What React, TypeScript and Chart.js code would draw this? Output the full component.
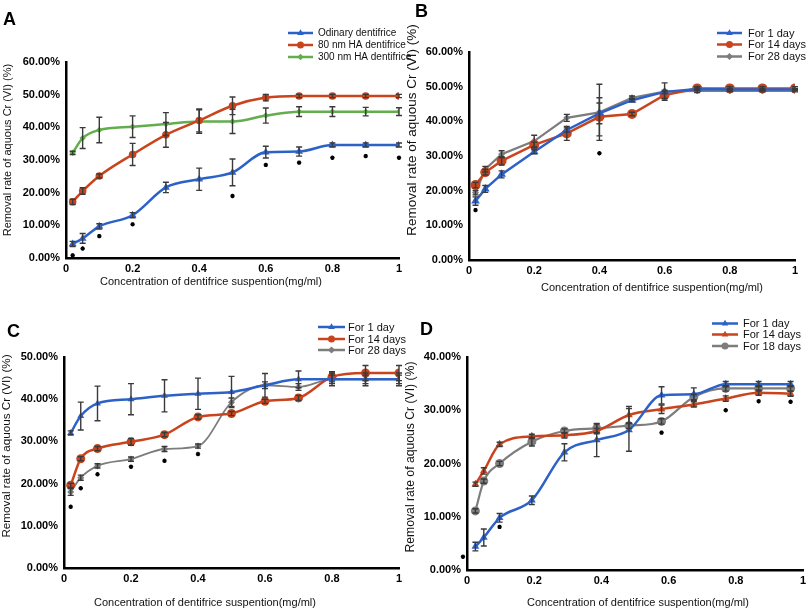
import React, { useEffect, useRef } from "react";
import { Chart, registerables } from "chart.js";

Chart.register(...registerables);

const FONT = "'Liberation Sans', Arial, Helvetica, sans-serif";

// ---------- shared ----------
const concentration = [0.02, 0.05, 0.1, 0.2, 0.3, 0.4, 0.5, 0.6, 0.7, 0.8, 0.9, 1];
const concentrationD = [0.025, 0.05, 0.097, 0.193, 0.29, 0.386, 0.482, 0.579, 0.675, 0.77, 0.868, 0.963];
const xTitle = "Concentration of dentifrice suspention(mg/ml)";
const yTitle = "Removal rate of aquous Cr (VI) (%)";

// ---------- Panel A ----------
const seriesNamesA = ["Odinary dentifrice", "80 nm HA dentifrice", "300 nm HA dentifrice"];
const odinaryA = [4.3, 6.0, 9.7, 13.1, 21.6, 24.1, 26.2, 32.4, 32.6, 34.6, 34.6, 34.6];
const odinaryErrA = [0.8, 1.5, 0.8, 0.8, 1.6, 3.4, 4.1, 1.8, 1.4, 0.6, 0.6, 0.6];
const ha80A = [17.2, 20.5, 25.1, 31.7, 37.7, 42.1, 46.6, 49.1, 49.6, 49.6, 49.6, 49.6];
const ha80ErrA = [0.8, 1.0, 0.6, 3.4, 3.8, 3.5, 2.7, 1.0, 0.5, 0.5, 0.5, 0.5];
const ha300A = [32.2, 36.7, 39.2, 40.2, 41.0, 41.8, 41.8, 43.6, 44.8, 44.8, 44.8, 44.8];
const ha300ErrA = [0.5, 3.2, 3.9, 3.3, 3.5, 3.6, 3.7, 2.3, 1.5, 1.5, 1.3, 1.2];
const starXA = [0.02, 0.05, 0.1, 0.2, 0.5, 0.6, 0.7, 0.8, 0.9, 1];
const starYA = [0.8, 2.9, 6.7, 10.3, 19.0, 28.5, 29.2, 30.7, 31.2, 30.7];

// ---------- Panel B ----------
const seriesNamesB = ["For 1 day", "For 14 days", "For 28 days"];
const day1B = [17.0, 20.5, 24.7, 31.2, 37.5, 42.3, 46.1, 48.5, 49.3, 49.2, 49.2, 49.2];
const day1ErrB = [1.2, 1.0, 1.0, 0.6, 0.6, 3.0, 0.5, 0.5, 0.3, 0.3, 0.3, 0.3];
const day14B = [21.6, 25.3, 28.6, 33.2, 36.5, 41.3, 42.1, 47.6, 49.5, 49.5, 49.5, 49.5];
const day14ErrB = [0.8, 0.8, 1.2, 0.8, 2.0, 5.5, 0.5, 1.0, 0.5, 0.5, 0.5, 0.5];
const day28B = [19.4, 26.2, 30.5, 34.3, 41.0, 42.6, 46.8, 48.6, 48.8, 48.8, 48.8, 48.8];
const day28ErrB = [0.6, 0.8, 1.0, 1.7, 1.0, 8.1, 0.5, 2.5, 0.5, 0.3, 0.3, 0.3];
const starXB = [0.02, 0.4];
const starYB = [14.4, 30.8];

// ---------- Panel C ----------
const seriesNamesC = ["For 1 day", "For 14 days", "For 28 days"];
const day1C = [32.0, 36.0, 39.0, 40.0, 40.8, 41.3, 41.7, 43.3, 44.7, 44.7, 44.7, 44.7];
const day1ErrC = [0.5, 3.3, 4.1, 3.7, 3.8, 3.7, 3.7, 2.8, 2.0, 1.5, 1.5, 1.5];
const day14C = [19.6, 25.9, 28.3, 29.9, 31.6, 35.8, 36.6, 39.5, 40.3, 45.3, 46.2, 46.2];
const day14ErrC = [0.5, 0.5, 0.5, 0.8, 0.5, 0.5, 0.5, 0.5, 0.6, 1.2, 1.8, 1.8];
const day28C = [18.0, 21.4, 24.2, 25.8, 28.2, 28.9, 39.3, 43.3, 42.9, 44.7, 44.7, 44.7];
const day28ErrC = [0.8, 0.6, 0.5, 0.5, 0.6, 0.5, 1.0, 0.8, 0.8, 1.0, 1.0, 1.0];
const starXC = [0.02, 0.05, 0.1, 0.2, 0.3, 0.4];
const starYC = [14.5, 18.9, 22.2, 24.0, 25.4, 27.0];

// ---------- Panel D ----------
const seriesNamesD = ["For 1 day", "For 14 days", "For 18 days"];
const day1D = [4.4, 6.1, 9.8, 13.1, 22.1, 24.4, 26.3, 32.8, 33.0, 34.9, 34.9, 34.9];
const day1ErrD = [0.8, 1.6, 0.8, 0.8, 1.6, 3.1, 4.0, 1.6, 1.2, 0.5, 0.5, 0.5];
const day14D = [16.1, 18.6, 23.6, 25.1, 25.3, 26.1, 29.1, 30.2, 31.1, 32.2, 33.3, 33.1];
const day14ErrD = [0.4, 0.6, 0.4, 0.4, 0.5, 0.5, 1.6, 0.8, 0.5, 0.5, 0.5, 0.5];
const day18D = [11.1, 16.7, 20.0, 24.1, 26.1, 26.6, 27.1, 27.9, 32.5, 34.1, 34.1, 34.1];
const day18ErrD = [0.4, 0.4, 0.4, 0.8, 0.4, 0.8, 0.5, 0.5, 0.5, 0.5, 0.5, 0.5];
const starXD = [-0.012, 0.097, 0.579, 0.77, 0.868, 0.963];
const starYD = [2.5, 8.1, 25.8, 30.0, 31.7, 31.6];

// ---------- styles ----------
const BLUE = "#2c62c8";
const RED = "#c9441c";
const GREEN = "#62ad4c";
const GRAY = "#7d7d7d";

type Style = { color: string; point: string; r: number; w: number };

function drawMarker(ctx: CanvasRenderingContext2D, style: string, x: number, y: number, r: number, color: string) {
  ctx.save();
  ctx.fillStyle = color;
  ctx.beginPath();
  if (style === "triangle") {
    ctx.moveTo(x, y - r * 1.05);
    ctx.lineTo(x + r * 0.95, y + r * 0.6);
    ctx.lineTo(x - r * 0.95, y + r * 0.6);
    ctx.closePath();
  } else if (style === "rectRot") {
    ctx.moveTo(x, y - r);
    ctx.lineTo(x + r, y);
    ctx.lineTo(x, y + r);
    ctx.lineTo(x - r, y);
    ctx.closePath();
  } else {
    ctx.arc(x, y, r, 0, Math.PI * 2);
  }
  ctx.fill();
  ctx.restore();
}

const decorPlugin = {
  id: "decor",
  afterDatasetsDraw(chart: any, _args: any, opts: any) {
    const ctx: CanvasRenderingContext2D = chart.ctx;
    const xs = chart.scales.x;
    const ys = chart.scales.y;
    ctx.save();
    ctx.strokeStyle = "#3a3a3a";
    ctx.lineWidth = 1.4;
    (opts.errors || []).forEach((errs: number[], di: number) => {
      const ds = chart.data.datasets[di];
      ds.data.forEach((p: any, j: number) => {
        const e = errs[j];
        if (!e) return;
        const x = xs.getPixelForValue(p.x);
        const y1 = ys.getPixelForValue(p.y + e);
        const y2 = ys.getPixelForValue(p.y - e);
        ctx.beginPath();
        ctx.moveTo(x, y1);
        ctx.lineTo(x, y2);
        ctx.moveTo(x - 3, y1);
        ctx.lineTo(x + 3, y1);
        ctx.moveTo(x - 3, y2);
        ctx.lineTo(x + 3, y2);
        ctx.stroke();
      });
    });
    ctx.restore();
  },
  afterDraw(chart: any, _args: any, opts: any) {
    const ctx: CanvasRenderingContext2D = chart.ctx;
    ctx.save();
    // panel letter
    ctx.fillStyle = "#000";
    ctx.font = `bold 18px ${FONT}`;
    ctx.textAlign = "left";
    ctx.textBaseline = "alphabetic";
    ctx.fillText(opts.letter, opts.letterX, opts.letterY);
    // legend
    const lg = opts.legend;
    opts.names.forEach((name: string, i: number) => {
      const st: Style = opts.styles[i];
      const y = lg.ys[i];
      ctx.strokeStyle = st.color;
      ctx.lineWidth = 2.5;
      ctx.beginPath();
      ctx.moveTo(lg.x1, y);
      ctx.lineTo(lg.x2, y);
      ctx.stroke();
      drawMarker(ctx, st.point, (lg.x1 + lg.x2) / 2, y, Math.min(st.r, 3.5), st.color);
      ctx.fillStyle = "#111";
      ctx.font = `${lg.size}px ${FONT}`;
      ctx.textAlign = "left";
      ctx.textBaseline = "middle";
      ctx.fillText(name, lg.tx, y + 0.5);
    });
    // axis titles
    ctx.fillStyle = "#111";
    ctx.font = `11px ${FONT}`;
    ctx.textAlign = "center";
    ctx.textBaseline = "middle";
    ctx.fillText(xTitle, opts.xTitleX, opts.xTitleY);
    ctx.save();
    ctx.translate(opts.yTitleX, opts.yTitleY);
    ctx.rotate(-Math.PI / 2);
    ctx.font = `${opts.yTitleSize}px ${FONT}`;
    ctx.fillText(yTitle, 0, 0);
    ctx.restore();
    ctx.restore();
  },
};

type PanelCfg = {
  w: number;
  h: number;
  left: number;
  top: number;
  xs: number[];
  names: string[];
  values: number[][];
  errors: number[][];
  styles: Style[];
  starX: number[];
  starY: number[];
  yMax: number;
  smooth: boolean;
  area: { yW: number; padR: number; padT: number; xH: number };
  letter: string;
  letterX: number;
  letterY: number;
  legend: { x1: number; x2: number; tx: number; ys: number[]; size: number };
  xTitleX: number;
  xTitleY: number;
  yTitleX: number;
  yTitleY: number;
  yTitleSize: number;
};

function Panel({ cfg }: { cfg: PanelCfg }) {
  const ref = useRef<HTMLCanvasElement | null>(null);
  useEffect(() => {
    if (!ref.current) return;
    const datasets: any[] = cfg.values.map((vals, i) => {
      const st = cfg.styles[i];
      return {
        type: "line",
        label: cfg.names[i],
        data: cfg.xs.map((x, j) => ({ x, y: vals[j] })),
        borderColor: st.color,
        backgroundColor: st.color,
        borderWidth: st.w,
        pointStyle: st.point,
        pointRadius: st.r,
        pointBorderWidth: 0,
        pointBackgroundColor: st.color,
        cubicInterpolationMode: cfg.smooth ? "monotone" : "default",
        tension: cfg.smooth ? 0.4 : 0,
        fill: false,
      };
    });
    datasets.push({
      type: "scatter",
      label: "sig",
      data: cfg.starX.map((x, j) => ({ x, y: cfg.starY[j] })),
      pointStyle: "star",
      pointRadius: 2.2,
      borderWidth: 1.3,
      borderColor: "#000",
      backgroundColor: "#000",
      clip: false,
    });
    const chart = new Chart(ref.current, {
      type: "line",
      data: { datasets },
      plugins: [decorPlugin as any],
      options: {
        animation: false,
        responsive: false,
        devicePixelRatio: 1,
        layout: { padding: { left: 0, right: cfg.area.padR, top: cfg.area.padT, bottom: 0 } },
        plugins: {
          legend: { display: false },
          tooltip: { enabled: false },
          decor: {
            errors: cfg.errors,
            names: cfg.names,
            styles: cfg.styles,
            letter: cfg.letter,
            letterX: cfg.letterX,
            letterY: cfg.letterY,
            legend: cfg.legend,
            xTitleX: cfg.xTitleX,
            xTitleY: cfg.xTitleY,
            yTitleX: cfg.yTitleX,
            yTitleY: cfg.yTitleY,
            yTitleSize: cfg.yTitleSize,
          },
        } as any,
        scales: {
          x: {
            type: "linear",
            min: 0,
            max: 1,
            grid: { display: false, drawTicks: false },
            border: { display: true, color: "#000", width: 2.5 },
            ticks: {
              stepSize: 0.2,
              padding: 4,
              color: "#000",
              font: { family: FONT, size: 11, weight: "bold" },
              maxRotation: 0,
              callback: (v: any) => String(Number(Number(v).toFixed(1))),
            },
            afterFit: (s: any) => {
              s.height = cfg.area.xH;
            },
          },
          y: {
            type: "linear",
            min: 0,
            max: cfg.yMax,
            grid: { display: false, drawTicks: false },
            border: { display: true, color: "#000", width: 2.5 },
            ticks: {
              stepSize: 10,
              padding: 6,
              color: "#000",
              font: { family: FONT, size: 11, weight: "bold" },
              callback: (v: any) => Number(v).toFixed(2) + "%",
            },
            afterFit: (s: any) => {
              s.width = cfg.area.yW;
            },
          },
        },
      } as any,
    });
    return () => chart.destroy();
  }, [cfg]);
  return (
    <canvas
      ref={ref}
      width={cfg.w}
      height={cfg.h}
      style={{ position: "absolute", left: cfg.left, top: cfg.top, width: cfg.w, height: cfg.h }}
    />
  );
}

const panelA: PanelCfg = {
  w: 415, h: 300, left: 0, top: 0,
  xs: concentration,
  names: seriesNamesA,
  values: [odinaryA, ha80A, ha300A],
  errors: [odinaryErrA, ha80ErrA, ha300ErrA],
  styles: [
    { color: BLUE, point: "triangle", r: 4.5, w: 2.5 },
    { color: RED, point: "circle", r: 3.8, w: 2.5 },
    { color: GREEN, point: "rectRot", r: 3.2, w: 2.5 },
  ],
  starX: starXA, starY: starYA,
  yMax: 60, smooth: true,
  area: { yW: 66, padR: 16, padT: 62, xH: 42 },
  letter: "A", letterX: 3, letterY: 25,
  legend: { x1: 288, x2: 313, tx: 318, ys: [33, 45, 57], size: 10 },
  xTitleX: 211, xTitleY: 282,
  yTitleX: 8, yTitleY: 150, yTitleSize: 11,
};

const panelB: PanelCfg = {
  w: 406, h: 300, left: 405, top: 0,
  xs: concentration,
  names: seriesNamesB,
  values: [day1B, day14B, day28B],
  errors: [day1ErrB, day14ErrB, day28ErrB],
  styles: [
    { color: BLUE, point: "triangle", r: 5, w: 2.5 },
    { color: RED, point: "circle", r: 5, w: 2.5 },
    { color: GRAY, point: "rectRot", r: 3.5, w: 2.2 },
  ],
  starX: starXB, starY: starYB,
  yMax: 60, smooth: false,
  area: { yW: 64, padR: 16, padT: 52, xH: 40 },
  letter: "B", letterX: 10, letterY: 17,
  legend: { x1: 312, x2: 337, tx: 343, ys: [33, 44.5, 56.5], size: 11 },
  xTitleX: 247, xTitleY: 288,
  yTitleX: 7, yTitleY: 130, yTitleSize: 13.5,
};

const panelC: PanelCfg = {
  w: 415, h: 311, left: 0, top: 300,
  xs: concentration,
  names: seriesNamesC,
  values: [day1C, day14C, day28C],
  errors: [day1ErrC, day14ErrC, day28ErrC],
  styles: [
    { color: BLUE, point: "triangle", r: 4, w: 2.5 },
    { color: RED, point: "circle", r: 4.5, w: 2.5 },
    { color: GRAY, point: "rectRot", r: 3.5, w: 1.8 },
  ],
  starX: starXC, starY: starYC,
  yMax: 50, smooth: true,
  area: { yW: 64, padR: 16, padT: 57, xH: 43 },
  letter: "C", letterX: 7, letterY: 37,
  legend: { x1: 318, x2: 345, tx: 348, ys: [27, 39, 50], size: 11 },
  xTitleX: 205, xTitleY: 303,
  yTitleX: 7, yTitleY: 146, yTitleSize: 11.7,
};

const panelD: PanelCfg = {
  w: 406, h: 311, left: 405, top: 300,
  xs: concentrationD,
  names: seriesNamesD,
  values: [day1D, day14D, day18D],
  errors: [day1ErrD, day14ErrD, day18ErrD],
  styles: [
    { color: BLUE, point: "triangle", r: 4.5, w: 2.5 },
    { color: RED, point: "triangle", r: 4.5, w: 2.5 },
    { color: GRAY, point: "circle", r: 4.5, w: 2.2 },
  ],
  starX: starXD, starY: starYD,
  yMax: 40, smooth: true,
  area: { yW: 62, padR: 8, padT: 57, xH: 41 },
  letter: "D", letterX: 15, letterY: 35,
  legend: { x1: 307, x2: 333, tx: 338, ys: [23.5, 34.5, 46], size: 11 },
  xTitleX: 233, xTitleY: 303,
  yTitleX: 6, yTitleY: 157, yTitleSize: 12.2,
};

const panels = [panelA, panelB, panelC, panelD];

export default function App() {
  return (
    <div style={{ position: "absolute", left: 0, top: 0, width: 811, height: 611, background: "#fff", overflow: "hidden" }}>
      {panels.map((p, i) => (
        <Panel key={i} cfg={p} />
      ))}
    </div>
  );
}
